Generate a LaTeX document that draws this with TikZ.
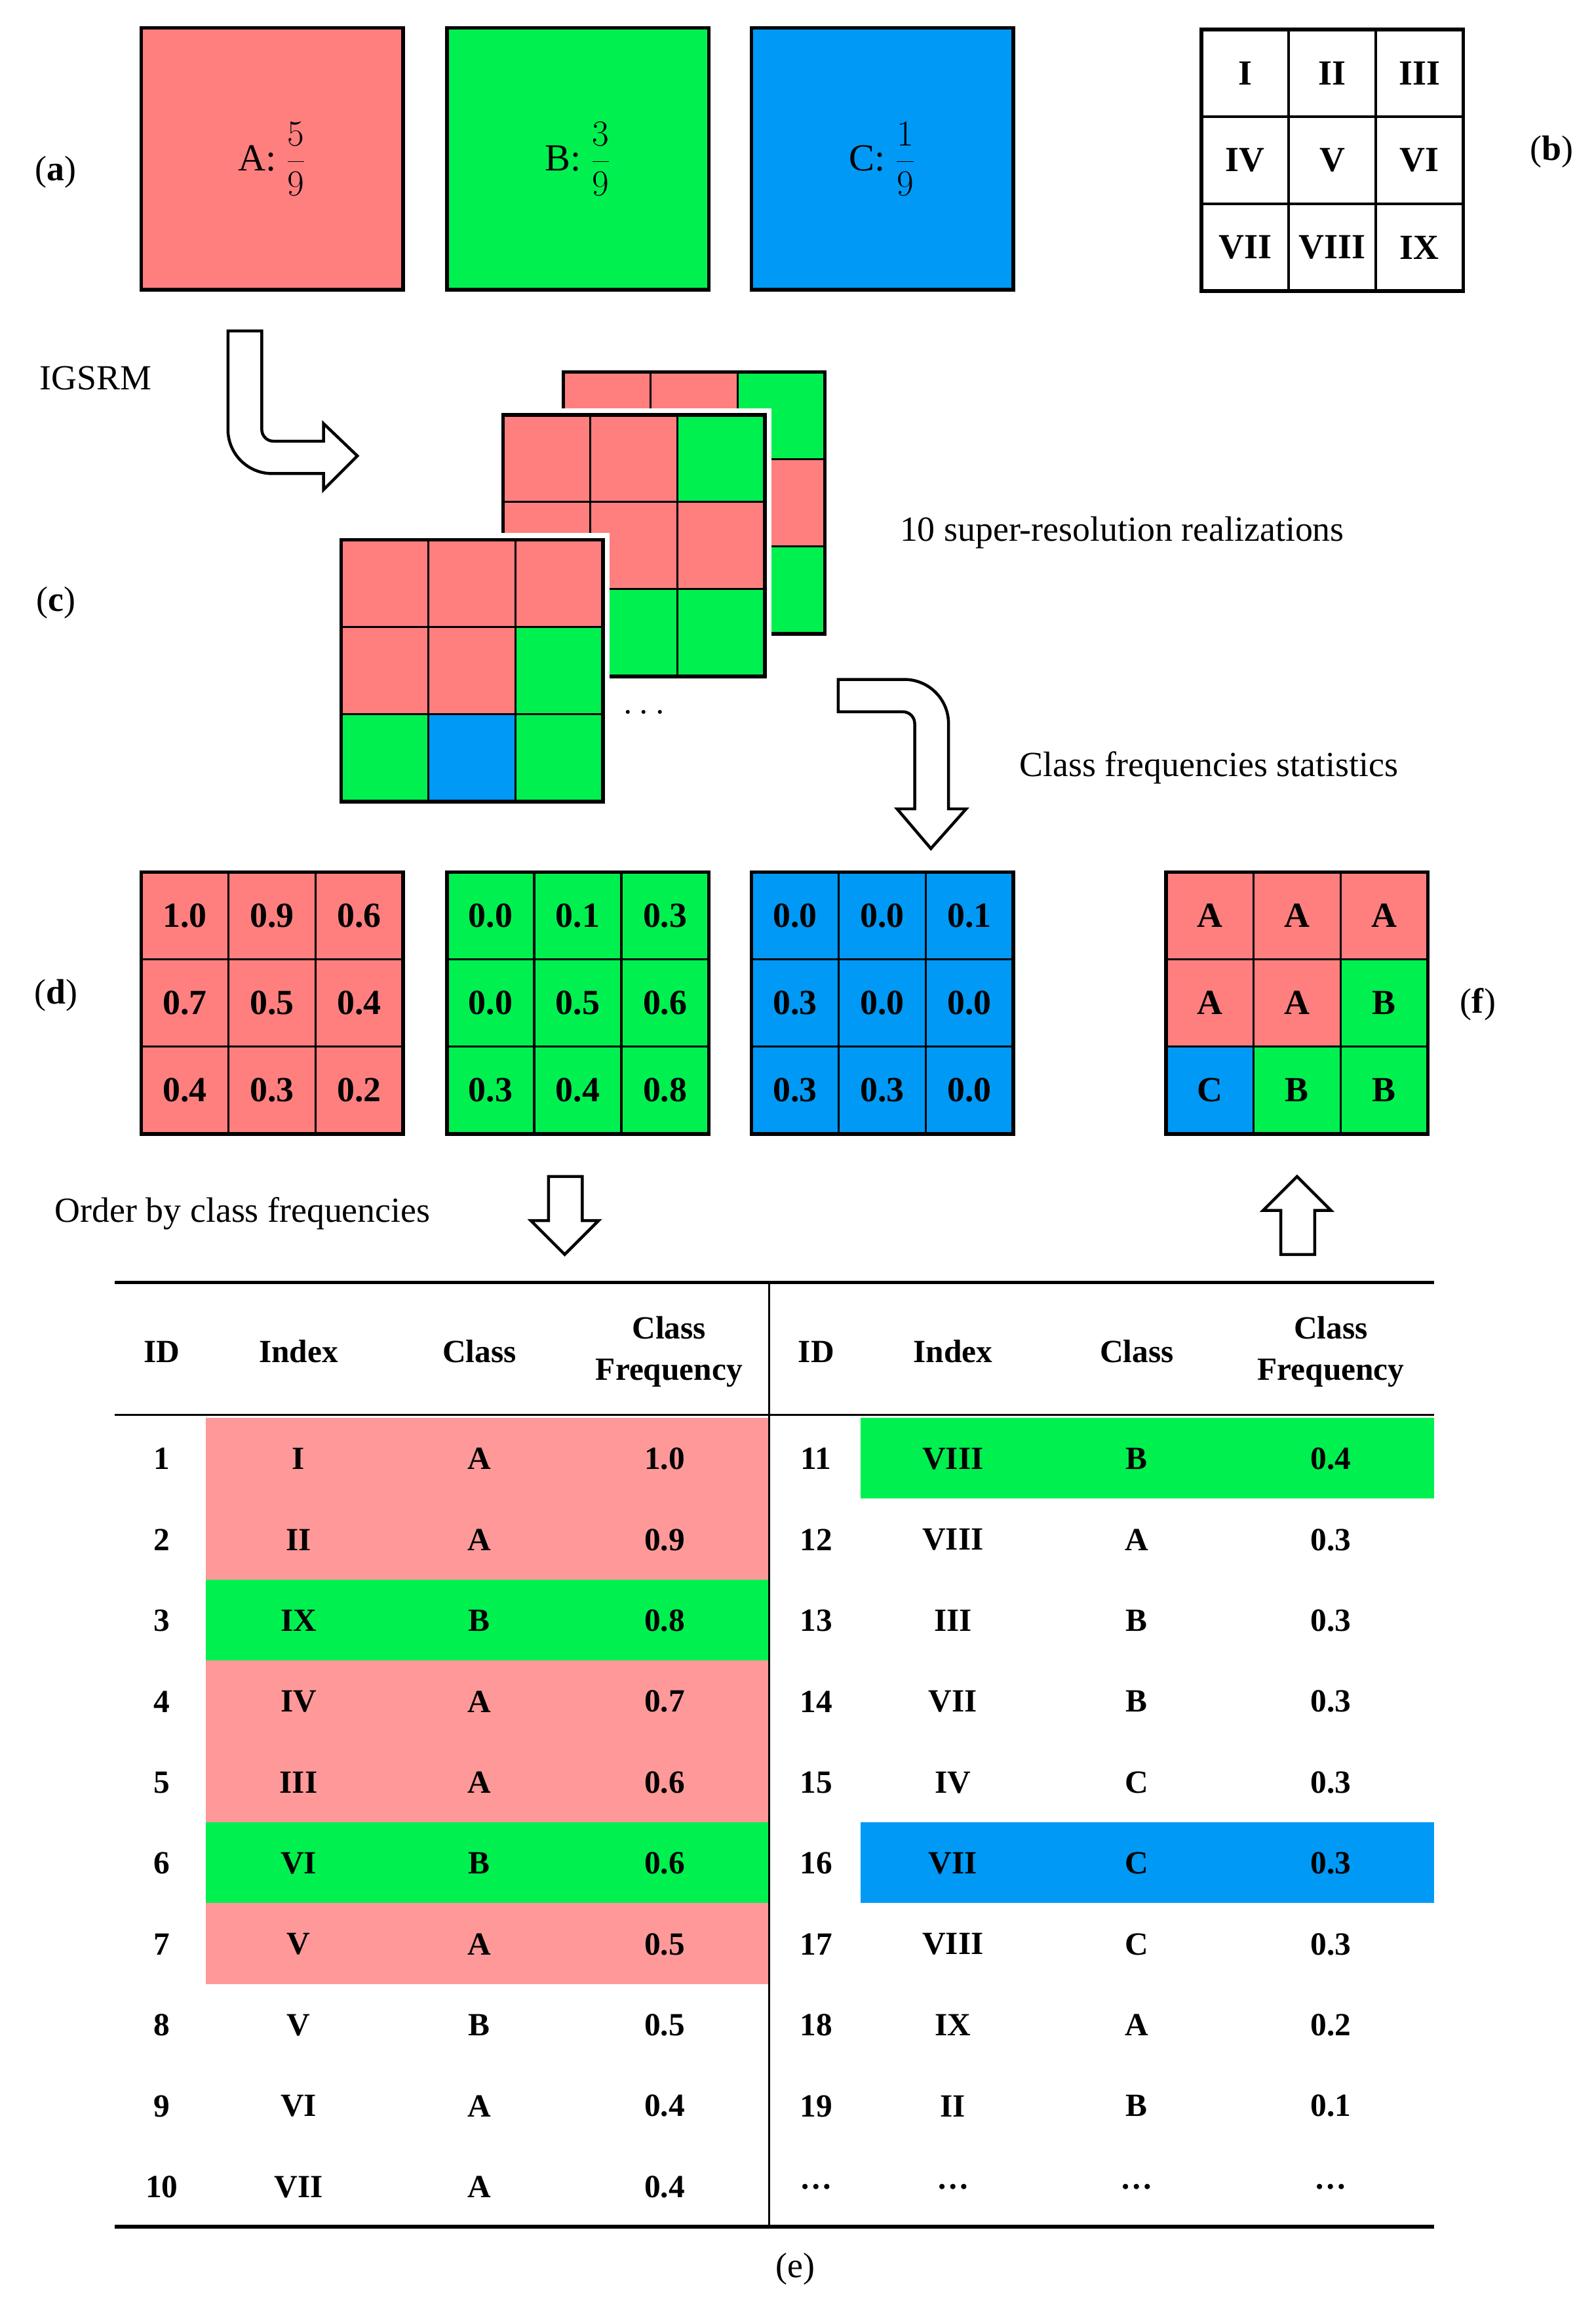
\documentclass[tikz,border=0pt]{standalone}
\usepackage{fontspec}
\setmainfont{Liberation Serif}
\begin{document}
\definecolor{cr}{HTML}{FF7F7F}
\definecolor{cg}{HTML}{00F050}
\definecolor{cb}{HTML}{0099F5}
\definecolor{tr}{HTML}{FF9999}
\begin{tikzpicture}[x=1pt,y=-1pt,
  cell/.style={draw,line width=1.5pt,minimum size=59.3pt,inner sep=0,font=\bfseries\fontsize{24}{28}\selectfont},
  lab/.style={font=\fontsize{24}{28}\selectfont},
  th/.style={font=\bfseries\fontsize{22}{26}\selectfont,align=center},
  hollow/.style={draw,fill=white,line width=2pt,line join=miter}]
\useasboundingbox (0,0) rectangle (1085,1568);
\newcommand\mygrid[4]{%
  \foreach [count=\k from 0] \c/\t in {#4} {%
    \pgfmathtruncatemacro\r{\k/3}\pgfmathtruncatemacro\cc{mod(\k,3)}%
    \node[cell,fill=\c] (#1-\k) at ({#2+29.65+59.3*\cc},{#3+29.65+59.3*\r}) {\t};}%
  \draw[line width=2.5pt] (#2,#3) rectangle ++(178,178);}
% (a)
\node[draw,line width=2.5pt,fill=cr,minimum size=178pt] (A) at (185,108) {\fontsize{26}{30}\selectfont A: $\displaystyle\frac{5}{9}$};
\node[draw,line width=2.5pt,fill=cg,minimum size=178pt] (B) at (393,108) {\fontsize{26}{30}\selectfont B: $\displaystyle\frac{3}{9}$};
\node[draw,line width=2.5pt,fill=cb,minimum size=178pt] (C) at (600,108) {\fontsize{26}{30}\selectfont C: $\displaystyle\frac{1}{9}$};
\node[lab] (la) at (38,117) {(\textbf{a})};
% (b)
\mygrid{b}{817}{20}{white/I,white/II,white/III,white/IV,white/V,white/VI,white/VII,white/VIII,white/IX}
\node[lab] (lb) at (1055,103) {(\textbf{b})};
% IGSRM arrow
\node[lab] (ig) at (65,257) {IGSRM};
\draw[hollow] (155,225) [rounded corners=30pt]-- (155,322) [sharp corners]-- (220,322) -- (220,333) -- (243,310) -- (220,288) -- (220,300) [rounded corners=8pt]-- (178,300) [sharp corners]-- (178,225) -- cycle;
% (c) stacks
\mygrid{s1}{383}{253}{cr/,cr/,cg/,cr/,cr/,cr/,cg/,cg/,cg/}
\draw[white,line width=5pt] (340,280) rectangle (522,462);
\mygrid{s2}{342}{282}{cr/,cr/,cg/,cr/,cr/,cr/,cg/,cg/,cg/}
\draw[white,line width=5pt] (230,365) rectangle (412,546);
\mygrid{s3}{232}{367}{cr/,cr/,cr/,cr/,cr/,cg/,cg/,cb/,cg/}
\node[lab] (dots) at (438,485) {$\cdots$};
\node[lab] (sr) at (763,362) {10 super-resolution realizations};
\node[lab] (lc) at (38,410) {(\textbf{c})};
\draw[hollow] (570,462) [rounded corners=30pt]-- (645,462) [sharp corners]-- (645,550) -- (657,550) -- (633,577) -- (610,550) -- (622,550) [rounded corners=8pt]-- (622,484) [sharp corners]-- (570,484) -- cycle;
\node[lab] (cf) at (822,522) {Class frequencies statistics};
% (d)
\mygrid{d1}{96}{593}{cr/1.0,cr/0.9,cr/0.6,cr/0.7,cr/0.5,cr/0.4,cr/0.4,cr/0.3,cr/0.2}
\mygrid{d2}{304}{593}{cg/0.0,cg/0.1,cg/0.3,cg/0.0,cg/0.5,cg/0.6,cg/0.3,cg/0.4,cg/0.8}
\mygrid{d3}{511}{593}{cb/0.0,cb/0.0,cb/0.1,cb/0.3,cb/0.0,cb/0.0,cb/0.3,cb/0.3,cb/0.0}
\node[lab] (ld) at (38,677) {(\textbf{d})};
% (f)
\mygrid{f}{793}{593}{cr/A,cr/A,cr/A,cr/A,cr/A,cg/B,cb/C,cg/B,cg/B}
\node[lab] (lf) at (1005,683) {(\textbf{f})};
% arrows
\draw[hollow] (373,800) -- (396,800) -- (396,830) -- (407,830) -- (384,853) -- (361,830) -- (373,830) -- cycle;
\draw[hollow] (871,853) -- (894,853) -- (894,823) -- (905,823) -- (882,800) -- (859,823) -- (871,823) -- cycle;
\node[lab] (ob) at (165,825) {Order by class frequencies};
% table highlights
\foreach \i/\c in {1/tr,2/tr,3/cg,4/tr,5/tr,6/cg,7/tr}
  \fill[\c] (140,{964+55*(\i-1)}) rectangle (523,{964+55*\i});
\fill[cg] (585,964) rectangle (975,1019);
\fill[cb] (585,1239) rectangle (975,1294);
\draw[line width=2.5pt] (78,872) -- (975,872);
\draw[line width=1.2pt] (78,962) -- (975,962);
\draw[line width=2.5pt] (78,1514) -- (975,1514);
\draw[line width=1.2pt] (523,872) -- (523,1514);
% headers
\foreach \x/\t [count=\j] in {110/ID,203/Index,326/Class,555/ID,648/Index,773/Class}
  \node[th] (h\j) at (\x,919) {\t};
\node[th,inner sep=0] (h7) at (455,919) {Class\\[2pt]Frequency};
\node[th,inner sep=0] (h8) at (905,919) {Class\\[2pt]Frequency};
\foreach \id/\ix/\cl/\fr [count=\i] in {1/I/A/1.0,2/II/A/0.9,3/IX/B/0.8,4/IV/A/0.7,5/III/A/0.6,6/VI/B/0.6,7/V/A/0.5,8/V/B/0.5,9/VI/A/0.4,10/VII/A/0.4}{
  \node[th] (l\i a) at (110,{992+55*(\i-1)}) {\id};
  \node[th] (l\i b) at (203,{992+55*(\i-1)}) {\ix};
  \node[th] (l\i c) at (326,{992+55*(\i-1)}) {\cl};
  \node[th] (l\i d) at (452,{992+55*(\i-1)}) {\fr};}
\foreach \id/\ix/\cl/\fr [count=\i] in {11/VIII/B/0.4,12/VIII/A/0.3,13/III/B/0.3,14/VII/B/0.3,15/IV/C/0.3,16/VII/C/0.3,17/VIII/C/0.3,18/IX/A/0.2,19/II/B/0.1,{\dots}/{\dots}/{\dots}/{\dots}}{
  \node[th] (r\i a) at (555,{992+55*(\i-1)}) {\id};
  \node[th] (r\i b) at (648,{992+55*(\i-1)}) {\ix};
  \node[th] (r\i c) at (773,{992+55*(\i-1)}) {\cl};
  \node[th] (r\i d) at (905,{992+55*(\i-1)}) {\fr};}
\node[lab] (le) at (541,1543) {(e)};
\end{tikzpicture}
\end{document}
